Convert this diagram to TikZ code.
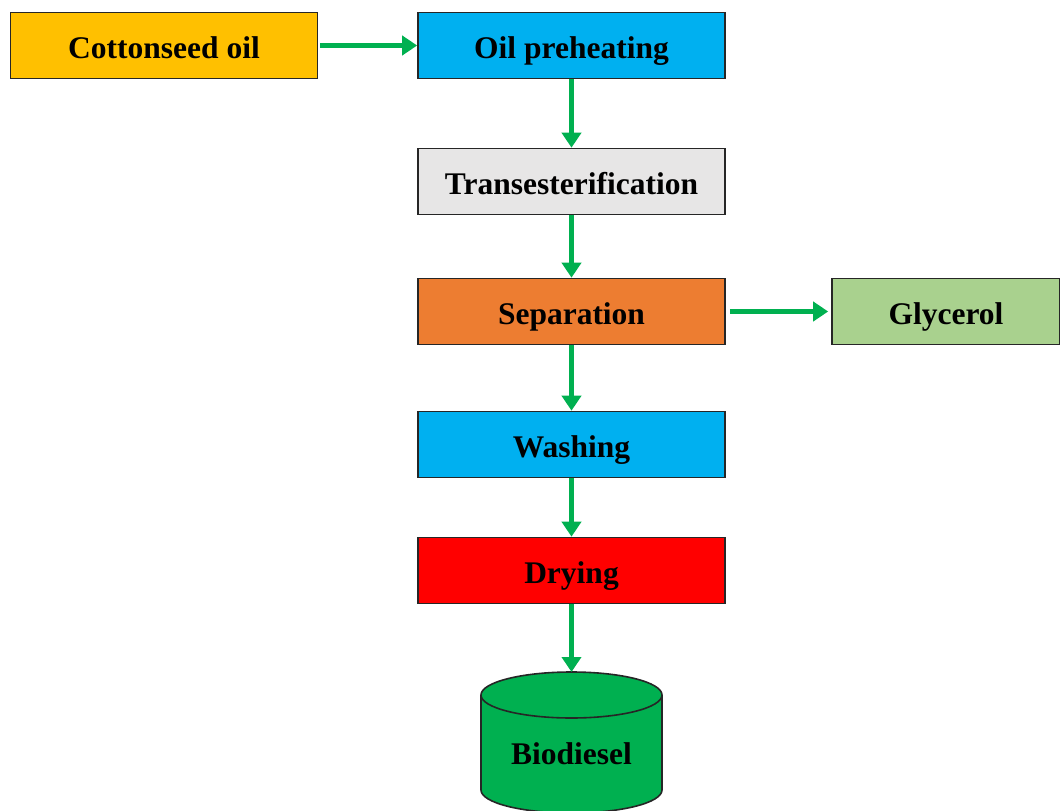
\documentclass[tikz,border=0pt]{standalone}
\usepackage{fontspec}
\setmainfont{Liberation Serif}
\usetikzlibrary{arrows.meta}
\definecolor{cyellow}{HTML}{FFC000}
\definecolor{cblue}{HTML}{00B0F0}
\definecolor{cgray}{HTML}{E7E6E6}
\definecolor{corange}{HTML}{ED7D31}
\definecolor{cgreenlight}{HTML}{A9D18E}
\definecolor{cred}{HTML}{FF0000}
\definecolor{cgreen}{HTML}{00B050}
\tikzset{
  label font/.style={font=\fontsize{31.5}{34}\selectfont\bfseries, text height=25pt, text depth=0pt},
  stepbox/.style={draw=black!85, line width=1.6pt, minimum width=307pt, minimum height=66pt,
    inner sep=0pt, label font},
  flow/.style={draw=cgreen, line width=5pt, -{Triangle[length=15pt,width=19pt]}},
}
\begin{document}
\begin{tikzpicture}[x=1pt,y=-1pt]
\useasboundingbox (0,0) rectangle (1060,811);
\clip (0,0) rectangle (1060,811);

\node[stepbox, fill=cyellow] (cotton) at (164,45.5) {Cottonseed oil};
\node[stepbox, fill=cblue] (preheat) at (571.5,45.5) {Oil preheating};
\node[stepbox, fill=cgray] (trans) at (571.5,181.5) {Transesterification};
\node[stepbox, fill=corange] (sep) at (571.5,311.5) {Separation};
\node[stepbox, fill=cgreenlight, minimum width=228pt] (gly) at (946,311.5) {Glycerol};
\node[stepbox, fill=cblue] (wash) at (571.5,444.5) {Washing};
\node[stepbox, fill=cred] (dry) at (571.5,570.5) {Drying};

% storage tank
\filldraw[fill=cgreen, draw=black!85, line width=1.6pt]
  (481,695) -- (481,790) arc[start angle=180, end angle=0, x radius=90.5, y radius=23]
  -- (662,695) arc[start angle=0, end angle=-180, x radius=90.5, y radius=23] -- cycle;
\draw[black!85, line width=1.6pt] (481,695) arc[start angle=180, end angle=0, x radius=90.5, y radius=23];
\coordinate (tanktop) at (571.5,672);
\node[label font, inner sep=0pt] (bio) at (571.5,752) {Biodiesel};

% flow connectors
\draw[flow] (cotton.east) ++(2,0) coordinate (c1) -- (preheat.west);
\draw[flow] (preheat.south) -- (trans.north);
\draw[flow] (trans.south) -- (sep.north);
\draw[flow] (sep.east) ++(4,0) coordinate (s1) -- ([xshift=-3pt]gly.west);
\draw[flow] (sep.south) -- (wash.north);
\draw[flow] (wash.south) -- (dry.north);
\draw[flow] (dry.south) -- (tanktop);
\end{tikzpicture}
\end{document}
